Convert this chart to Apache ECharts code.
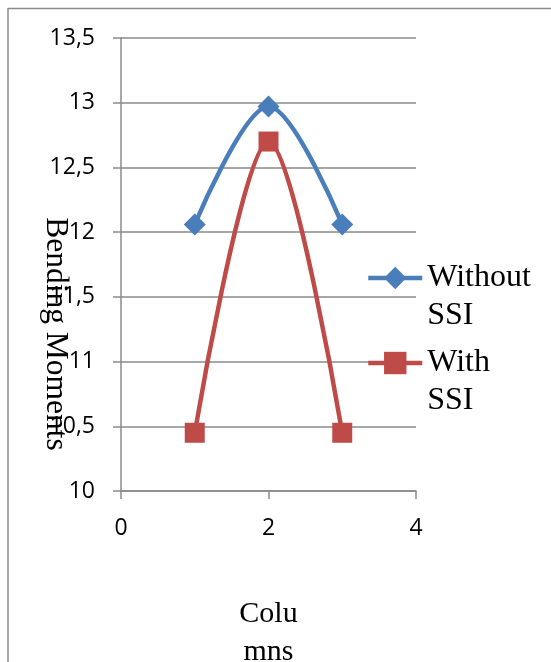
<!DOCTYPE html>
<html>
<head>
<meta charset="utf-8">
<script src="https://cdn.jsdelivr.net/npm/echarts@6/dist/echarts.min.js"></script>
<style>
  html, body { margin: 0; padding: 0; background: #fff; }
  #chart { width: 551px; height: 662px; }
</style>
</head>
<body>
<div id="chart"></div>
<script>
// Column positions along the frame and the bending moments at each column
const columns = [1, 2, 3];
const withoutSSI = [12.06, 12.97, 12.06];
const withSSI = [10.45, 12.70, 10.45];
const seriesNames = ['Without SSI', 'With SSI'];
// leading blank line keeps the legend icon level with the first word
const legendLabels = [' \nWithout\nSSI', ' \nWith\nSSI'];
const xTitle = 'Colu\nmns';
const yTitle = 'Bending Moments';

const BLUE = '#4a7ebb';
const RED = '#be4b48';
const GRID_GRAY = '#8a8a8a';
const SERIF = '"Liberation Serif", "Times New Roman", serif';
const SANS = '"Open Sans", "Noto Sans", sans-serif';

const toPairs = (xs, ys) => xs.map((x, i) => [x, ys[i]]);
const commaDecimal = v => String(v).replace('.', ',');

const chart = echarts.init(document.getElementById('chart'), null, { renderer: 'canvas' });

// One legend per series so each entry can sit on its own line pair
function legendFor(idx, top) {
  return {
    data: [seriesNames[idx]],
    left: 366,
    top: top,
    padding: 0,
    itemWidth: 54,
    itemHeight: 28,
    lineStyle: { width: 4.5 },
    formatter: () => legendLabels[idx],
    textStyle: {
      fontFamily: SERIF,
      fontSize: 32,
      color: '#000',
      lineHeight: 38
    }
  };
}

chart.setOption({
  animation: false,
  backgroundColor: '#fff',
  grid: { left: 121, top: 38, right: 135, bottom: 171, outerBoundsMode: 'none', containLabel: false },
  legend: [legendFor(0, 221), legendFor(1, 306)],
  xAxis: {
    type: 'value',
    min: 0,
    max: 4,
    interval: 2,
    name: xTitle,
    nameLocation: 'middle',
    nameGap: 104,
    nameMoveOverlap: false,
    nameTextStyle: { fontFamily: SERIF, fontSize: 30, color: '#000', lineHeight: 38, verticalAlign: 'top' },
    axisLine: { lineStyle: { color: GRID_GRAY, width: 1.5 } },
    axisTick: { show: true, length: 8, lineStyle: { color: GRID_GRAY, width: 1.5 } },
    axisLabel: { margin: 26, fontFamily: SANS, fontSize: 23, color: '#000' },
    splitLine: { show: false }
  },
  yAxis: {
    type: 'value',
    min: 10,
    max: 13.5,
    interval: 0.5,
    name: yTitle,
    nameLocation: 'middle',
    nameRotate: -90,
    nameGap: 50,
    nameMoveOverlap: false,
    nameTextStyle: { fontFamily: SERIF, fontSize: 31.5, color: '#000', padding: [0, 0, 0, 139] },
    axisLine: { show: true, lineStyle: { color: GRID_GRAY, width: 1.5 } },
    axisTick: { show: true, length: 8, lineStyle: { color: GRID_GRAY, width: 1.5 } },
    axisLabel: { margin: 26, fontFamily: SANS, fontSize: 23, color: '#000', formatter: commaDecimal },
    splitLine: { show: true, lineStyle: { color: GRID_GRAY, width: 1.5 } }
  },
  series: [
    {
      name: seriesNames[0],
      type: 'line',
      data: toPairs(columns, withoutSSI),
      smooth: 0.33,
      symbol: 'diamond',
      symbolSize: 22,
      itemStyle: { color: BLUE },
      lineStyle: { color: BLUE, width: 4.5 },
      z: 3
    },
    {
      name: seriesNames[1],
      type: 'line',
      data: toPairs(columns, withSSI),
      smooth: 0.33,
      symbol: 'rect',
      symbolSize: 20,
      itemStyle: { color: RED },
      lineStyle: { color: RED, width: 4.5 },
      z: 2
    }
  ],
  graphic: [
    { type: 'line', shape: { x1: 8, y1: 8.5, x2: 551, y2: 8.5 }, style: { stroke: '#8c8c8c', lineWidth: 1.5 }, silent: true },
    { type: 'line', shape: { x1: 8, y1: 8, x2: 8, y2: 662 }, style: { stroke: '#8c8c8c', lineWidth: 1.5 }, silent: true }
  ]
});
</script>
</body>
</html>
